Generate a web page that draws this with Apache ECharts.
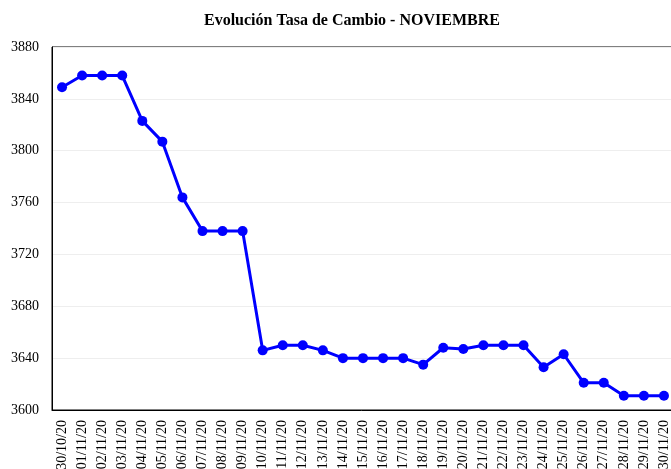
<!DOCTYPE html>
<html>
<head>
<meta charset="utf-8">
<script src="https://cdn.jsdelivr.net/npm/echarts@6/dist/echarts.min.js"></script>
<style>
  html, body { margin: 0; padding: 0; background: #fff; }
  #chart { width: 671px; height: 469px; }
</style>
</head>
<body>
<div id="chart"></div>
<script>
  // fechas y tasa de cambio
  var fechas = ['30/10/20', '01/11/20', '02/11/20', '03/11/20', '04/11/20', '05/11/20', '06/11/20',
    '07/11/20', '08/11/20', '09/11/20', '10/11/20', '11/11/20', '12/11/20', '13/11/20', '14/11/20',
    '15/11/20', '16/11/20', '17/11/20', '18/11/20', '19/11/20', '20/11/20', '21/11/20', '22/11/20',
    '23/11/20', '24/11/20', '25/11/20', '26/11/20', '27/11/20', '28/11/20', '29/11/20', '30/11/20'];
  var tasa = [3849, 3858, 3858, 3858, 3823, 3807, 3764, 3738, 3738, 3738, 3646, 3650, 3650, 3646, 3640,
    3640, 3640, 3640, 3635, 3648, 3647, 3650, 3650, 3650, 3633, 3643, 3621, 3621, 3611, 3611, 3611];
  var yMin = 3600, yMax = 3880, yPaso = 40;

  var fuente = '"Liberation Serif", "DejaVu Serif", serif';
  var myChart = echarts.init(document.getElementById('chart'));
  myChart.setOption({
    animation: false,
    title: {
      text: 'Evolución Tasa de Cambio - NOVIEMBRE',
      left: 199,
      top: 8,
      textStyle: { fontFamily: fuente, fontSize: 16, fontWeight: 'bold', color: '#000' }
    },
    grid: {
      left: 52, top: 47, bottom: 59, right: -3,
      outerBoundsMode: 'none',
      containLabel: false,
      show: true, borderColor: '#000', borderWidth: 1
    },
    xAxis: {
      type: 'category',
      data: fechas,
      boundaryGap: true,
      axisLine: { lineStyle: { color: '#000' } },
      axisTick: { show: false },
      axisLabel: {
        interval: 0, rotate: 90, margin: 10,
        fontFamily: fuente, fontSize: 14, color: '#000'
      }
    },
    yAxis: {
      type: 'value',
      min: yMin, max: yMax, interval: yPaso,
      axisLine: { show: true, lineStyle: { color: '#000' } },
      axisTick: { show: false },
      axisLabel: {
        margin: 13, fontFamily: fuente, fontSize: 14, color: '#000',
        formatter: function (v) { return String(v); }
      },
      splitLine: { lineStyle: { color: '#eeeeee' } }
    },
    series: [{
      type: 'line',
      data: tasa,
      symbol: 'circle',
      symbolSize: 10,
      lineStyle: { color: '#0000ff', width: 3 },
      itemStyle: { color: '#0000ff' }
    }]
  });
</script>
</body>
</html>
